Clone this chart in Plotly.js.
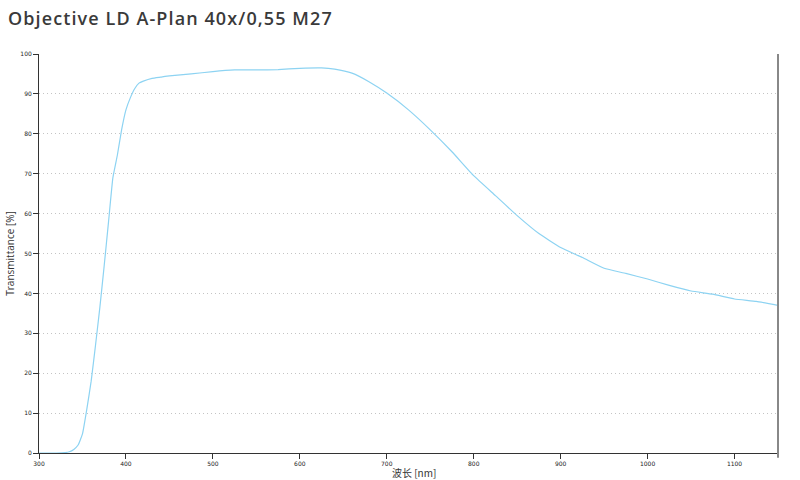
<!DOCTYPE html>
<html>
<head>
<meta charset="utf-8">
<script src="https://cdn.plot.ly/plotly-3.0.1.min.js"></script>
<style>
html,body{margin:0;padding:0;background:#fff;}
#chart{width:800px;height:480px;}
#chart .gtitle{letter-spacing:1.1px;}
</style>
</head>
<body>
<div id="chart"></div>
<script>
const wavelength = [300, 320, 330, 335, 340, 345, 350, 355, 360, 365, 370, 375, 380, 385, 390, 395, 400, 405, 410, 415, 420, 430, 440, 450, 475, 500, 525, 550, 575, 600, 625, 640, 660, 680, 700, 725, 750, 775, 800, 825, 850, 875, 900, 925, 950, 975, 1000, 1025, 1050, 1075, 1100, 1125, 1150];
const transmittance = [0, 0, 0.1, 0.3, 0.9, 2, 4.8, 11, 18, 27, 36.5, 47, 58, 69, 74.5, 81, 86, 89, 91.3, 92.7, 93.2, 93.9, 94.2, 94.5, 95, 95.6, 96, 96, 96.1, 96.4, 96.5, 96.2, 95.2, 93, 90.2, 86, 81, 75.5, 69.5, 64.5, 59.5, 55, 51.5, 49, 46.3, 45, 43.6, 42, 40.6, 39.8, 38.6, 38, 37];
const xTicks = [300, 400, 500, 600, 700, 800, 900, 1000, 1100];
const yTicks = [0, 10, 20, 30, 40, 50, 60, 70, 80, 90, 100];
const xTitle = '波长 [nm]';

const trace = {
  x: wavelength, y: transmittance, type: 'scatter', mode: 'lines',
  line: {color: '#8dd3f2', width: 1.2, shape: 'spline', smoothing: 0.4},
  hoverinfo: 'x+y'
};

const layout = {
  width: 800, height: 480,
  margin: {l: 39, r: 22, t: 54, b: 27},
  paper_bgcolor: '#fff', plot_bgcolor: '#fff',
  showlegend: false,
  title: {text: 'Objective LD A-Plan 40x/0,55 M27', x: 0.01, xanchor: 'left', y: 0.962, yanchor: 'middle',
    font: {family: 'Open Sans, Noto Sans, sans-serif', size: 18, weight: 600, color: '#3a3a3a'}},
  xaxis: {
    range: [300, 1150], tickvals: xTicks, ticktext: xTicks.map(String),
    showgrid: false, zeroline: false, showline: true, linecolor: '#333', linewidth: 1,
    ticks: 'outside', ticklen: 5, tickcolor: '#333', tickwidth: 1,
    tickfont: {family: 'DejaVu Sans, sans-serif', size: 6, color: '#222'}
  },
  yaxis: {
    range: [0, 100], tickvals: yTicks, ticktext: yTicks.map(String),
    showgrid: true, gridcolor: '#c4c4c4', griddash: '1px,3px', gridwidth: 1,
    zeroline: false, showline: true, linecolor: '#333', linewidth: 1,
    ticks: 'outside', ticklen: 5, tickcolor: '#333', tickwidth: 1,
    tickfont: {family: 'DejaVu Sans, sans-serif', size: 6, color: '#222'},
    title: {text: 'Transmittance [%]', standoff: 3, font: {family: 'Open Sans, Noto Sans, sans-serif', size: 10, color: '#333'}}
  },
  annotations: [
    {text: xTitle, xref: 'paper', yref: 'paper', x: 0.475, y: -0.05, xanchor: 'left', yanchor: 'middle',
     showarrow: false, font: {family: 'Noto Sans CJK SC, Liberation Sans, sans-serif', size: 10, color: '#333'}}
  ],
  shapes: [
    {type: 'line', xref: 'paper', yref: 'paper', x0: 1, x1: 1, y0: -0.012, y1: 1, line: {color: '#888', width: 2}}
  ]
};

Plotly.newPlot('chart', [trace], layout, {displayModeBar: false, staticPlot: true});
</script>
</body>
</html>
